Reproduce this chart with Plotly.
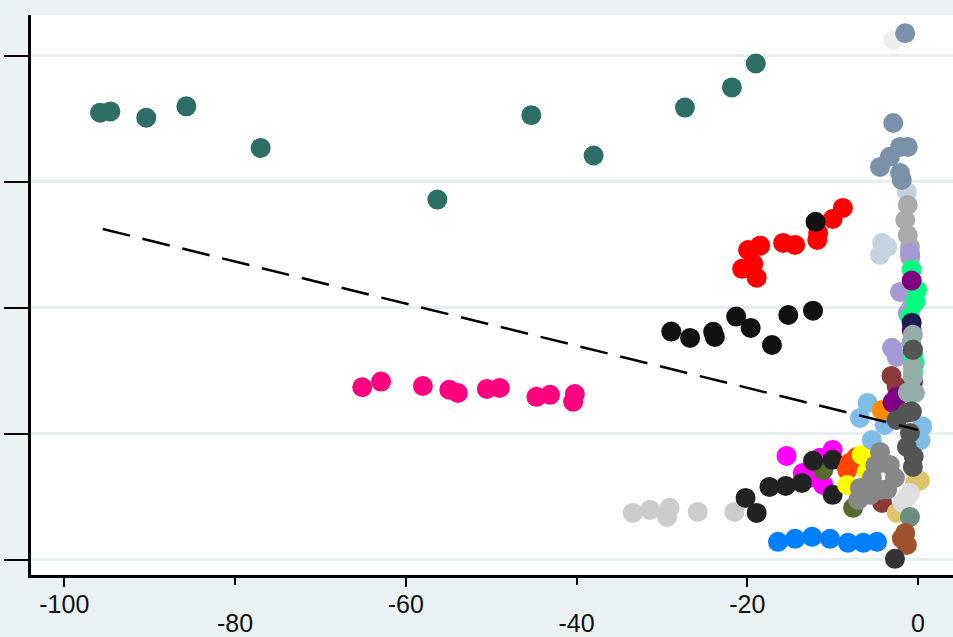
import plotly.graph_objects as go

# ---------------- data (x: change, y: outcome level; y tick labels hidden) ----------------
teal_x = [-95.8, -94.6, -90.4, -85.7, -77.0, -56.3, -45.3, -38.0, -27.3, -21.8, -19.0]
teal_y = [3.55, 3.56, 3.51, 3.60, 3.27, 2.86, 3.53, 3.21, 3.59, 3.75, 3.94]

pink_x = [-65.1, -62.9, -58.0, -54.9, -53.9, -50.5, -49.0, -44.7, -43.1, -40.2, -40.4]
pink_y = [1.37, 1.415, 1.38, 1.35, 1.325, 1.357, 1.365, 1.294, 1.31, 1.317, 1.256]

red_x = [-8.8, -10.0, -11.7, -11.8, -14.4, -15.8, -18.5, -19.9, -19.3, -20.6, -18.9]
red_y = [2.794, 2.706, 2.595, 2.54, 2.50, 2.516, 2.494, 2.46, 2.35, 2.31, 2.24]

black_x = [-28.9, -26.7, -24.0, -23.8, -21.3, -19.6, -17.1, -15.2, -12.3, -12.0]
black_y = [1.812, 1.762, 1.81, 1.77, 1.931, 1.841, 1.706, 1.944, 1.978, 2.683]

ltgray_x = [-33.4, -31.4, -29.1, -29.4, -25.8, -21.5]
ltgray_y = [0.373, 0.397, 0.413, 0.341, 0.381, 0.381]

dark_x = [-20.2, -18.9, -17.4, -15.5, -13.6, -12.3, -10.0, -10.0]
dark_y = [0.492, 0.373, 0.579, 0.587, 0.611, 0.786, 0.794, 0.516]

blue_x = [-16.4, -14.4, -12.4, -10.3, -8.2, -6.4, -4.8]
blue_y = [0.143, 0.167, 0.183, 0.167, 0.135, 0.135, 0.143]

magenta_x = [-15.4, -10.0, -13.5, -11.5, -11.1, -12.7]
magenta_y = [0.825, 0.873, 0.69, 0.81, 0.595, 0.65]

orangered_x = [-8.0, -7.2, -8.3]
orangered_y = [0.77, 0.817, 0.714]

yellow_x = [-6.6, -8.3, -6.0]
yellow_y = [0.833, 0.595, 0.70]

olive_x = [-11.1, -7.6]
olive_y = [0.714, 0.413]

gray_x = [-4.45, -3.3, -2.7, -5.4, -6.8, -4.45, -7.0, -5.6, -3.6, -5.0]
gray_y = [0.857, 0.754, 0.651, 0.651, 0.571, 0.556, 0.476, 0.516, 0.56, 0.75]

dkgray_x = [-1.3, -2.5, -0.94, -1.3, -0.6, -0.6, -0.74, -0.5]
dkgray_y = [1.167, 1.111, 1.008, 0.897, 0.738, 1.667, 1.177, 0.82]

ltblue_x = [-5.9, -6.8, -5.4, -3.9, 0.5, 0.3]
ltblue_y = [1.246, 1.127, 0.952, 1.071, 1.06, 0.95]

lavender_x = [-2.1, -3.05, -1.2, -2.5, -0.94, -2.5]
lavender_y = [2.127, 1.683, 1.96, 1.611, 2.437, 1.206]

spring_x = [-0.74, -0.12, -0.94, -0.59, -0.59, -0.3, -0.4]
spring_y = [2.302, 2.143, 1.929, 1.627, 1.484, 2.05, 1.56]

purple_x = [-0.74, -0.74, -0.59, -2.5, -3.0]
purple_y = [2.217, 1.825, 1.413, 1.294, 1.25]

navy_x = [-0.74]
navy_y = [1.883]

silver_x = [-0.94, -0.74, -1.2, -1.5, -1.2, -0.9]
silver_y = [2.484, 2.01, 2.817, 2.698, 2.579, 2.40]

ltsteel_x = [-1.3, -4.2, -3.6, -4.45]
ltsteel_y = [2.921, 2.516, 2.484, 2.421]

slate_x = [-1.5, -2.9, -2.1, -3.3, -4.45, -2.1, -1.9, -1.2]
slate_y = [4.18, 3.468, 3.278, 3.20, 3.119, 3.071, 3.016, 3.278]

smoke_x = [-2.9]
smoke_y = [4.127]

grayteal_x = [-0.6, -0.6, -0.6, -0.35, -1.2, -0.8]
grayteal_y = [1.786, 1.532, 1.45, 1.325, 1.33, 1.72]

dimgray_x = [-0.59, -0.74]
dimgray_y = [1.667, 1.177]

brown_x = [-3.1, -2.5, -4.2]
brown_y = [1.46, 1.376, 0.452]

orange_x = [-4.25]
orange_y = [1.19]

khaki_x = [0.23, -0.35, -2.5]
khaki_y = [0.63, 0.611, 0.373]

gainsboro_x = [-0.94, -1.76, -1.3]
gainsboro_y = [0.532, 0.452, 0.50]

sage_x = [-0.94]
sage_y = [0.341]

sienna_x = [-1.5, -1.3, -1.9]
sienna_y = [0.214, 0.119, 0.17]

charcoal_x = [-2.7]
charcoal_y = [0.008]

fit_x = [-95.5, 0.0]
fit_y = [2.627, 1.032]

y_ticks = [0, 1, 2, 3, 4]
x_ticks_row1 = [-100, -60, -20]
x_ticks_row2 = [-80, -40, 0]

# ---------------- drawing ----------------
series = [
    (teal_x, teal_y, "#2d6e66"),
    (pink_x, pink_y, "#ff007f"),
    (red_x, red_y, "#ff0000"),
    (black_x, black_y, "#111111"),
    (ltgray_x, ltgray_y, "#cccccc"),
    (blue_x, blue_y, "#0080ff"),
    (magenta_x, magenta_y, "#ff00ff"),
    (olive_x, olive_y, "#556b2f"),
    (dark_x, dark_y, "#222222"),
    (orangered_x, orangered_y, "#ff4500"),
    (yellow_x, yellow_y, "#ffff00"),
    (ltblue_x, ltblue_y, "#80bde6"),
    (brown_x, brown_y, "#8b3a3a"),
    (orange_x, orange_y, "#ff8c00"),
    (ltsteel_x, ltsteel_y, "#c5d3e0"),
    (smoke_x, smoke_y, "#eeeeee"),
    (slate_x, slate_y, "#7a91a8"),
    (silver_x, silver_y, "#aaaaaa"),
    (lavender_x, lavender_y, "#a59ad6"),
    (spring_x, spring_y, "#00ff7f"),
    (purple_x, purple_y, "#800080"),
    (navy_x, navy_y, "#1c1c50"),
    (grayteal_x, grayteal_y, "#93aea8"),
    (dimgray_x, dimgray_y, "#666666"),
    (khaki_x, khaki_y, "#dcc468"),
    (gainsboro_x, gainsboro_y, "#dddddd"),
    (sage_x, sage_y, "#6b8e7e"),
    (sienna_x, sienna_y, "#a0522d"),
    (gray_x, gray_y, "#888888"),
    (dkgray_x, dkgray_y, "#555555"),
    (charcoal_x, charcoal_y, "#333333"),
]

fig = go.Figure()
for xs, ys, col in series:
    fig.add_trace(go.Scatter(
        x=xs, y=ys, mode="markers",
        marker=dict(symbol="circle", size=20, color=col, line=dict(width=0)),
        showlegend=False, hoverinfo="skip"))

fig.add_trace(go.Scatter(
    x=fit_x, y=fit_y, mode="lines",
    line=dict(color="black", width=2.5, dash="28px,13px"),
    showlegend=False, hoverinfo="skip"))

# empty trace to activate the second (label-row) x axis
fig.add_trace(go.Scatter(x=[], y=[], xaxis="x2", showlegend=False))

xr = [-103.9, 4.1]
yr = [-0.12, 4.325]
tickfont = dict(family="Liberation Sans, Arial, sans-serif", size=25, color="#111111")

fig.update_layout(
    width=953, height=637,
    margin=dict(l=31, r=0, t=15, b=62, autoexpand=False),
    paper_bgcolor="#eaf2f3",
    plot_bgcolor="#ffffff",
    xaxis=dict(range=xr, showgrid=False, zeroline=False,
               showline=True, linecolor="black", linewidth=2.5,
               ticks="outside", ticklen=9, tickwidth=2, tickcolor="black",
               tickvals=x_ticks_row1, ticktext=[str(v) for v in x_ticks_row1],
               tickfont=tickfont, ticklabelstandoff=-4),
    xaxis2=dict(range=xr, overlaying="x", anchor="y", side="bottom",
                showgrid=False, zeroline=False, showline=False,
                ticks="outside", ticklen=9, tickwidth=2, tickcolor="black",
                tickvals=x_ticks_row2, ticktext=[str(v) for v in x_ticks_row2],
                tickfont=tickfont, ticklabelstandoff=17),
    yaxis=dict(range=yr, tickvals=y_ticks, showticklabels=False,
               showgrid=True, gridcolor="#e6eef0", gridwidth=2.5,
               zeroline=False, showline=True, linecolor="black", linewidth=2.5,
               ticks="outside", ticklen=24, tickwidth=2, tickcolor="black"),
)

fig.write_html("out.html", config={"displayModeBar": False},
               post_script="document.body.style.margin='0';document.body.style.overflow='hidden';")
